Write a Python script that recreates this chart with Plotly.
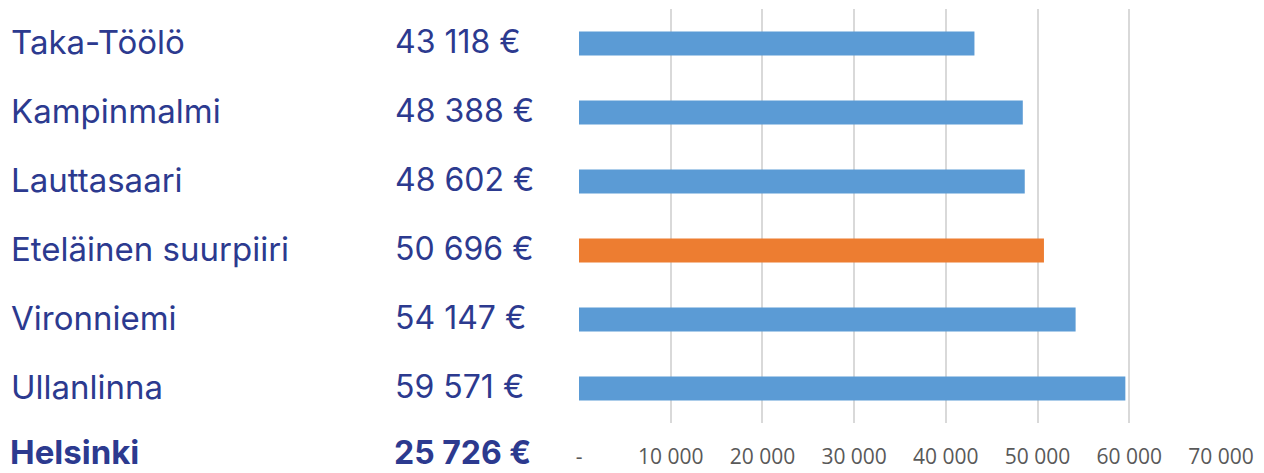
import plotly.graph_objects as go

# Data
categories = ["Taka-Töölö", "Kampinmalmi", "Lauttasaari", "Eteläinen suurpiiri", "Vironniemi", "Ullanlinna"]
values = [43118, 48388, 48602, 50696, 54147, 59571]
highlight = "Eteläinen suurpiiri"
total_label = "Helsinki"
total_value = 25726
tick_values = [0, 10000, 20000, 30000, 40000, 50000, 60000, 70000]
tick_labels = ["-", "10 000", "20 000", "30 000", "40 000", "50 000", "60 000", "70 000"]

BLUE = "#5b9bd5"
ORANGE = "#ed7d31"
TEXT = "#2c3a8f"

W, H = 1264, 473
L, R, T, B = 579, 43, 9, 50
PW = W - L - R


def fmt(v):
    return f"{v:,}".replace(",", " ") + " €"


colors = [ORANGE if c == highlight else BLUE for c in categories]

fig = go.Figure()
fig.add_trace(go.Bar(
    x=values, y=categories, orientation="h",
    marker=dict(color=colors, line=dict(width=0)),
    hoverinfo="skip",
))

name_x = (9 - L) / PW
val_x = (393 - L) / PW
name_font = dict(family="Inter, Roboto, sans-serif", size=33, color=TEXT)
val_font = dict(family="Inter, Roboto, sans-serif", size=32, color=TEXT)

annotations = []
for i, (c, v) in enumerate(zip(categories, values)):
    annotations.append(dict(x=name_x, y=i, xref="paper", yref="y", text=c, showarrow=False,
                            xanchor="left", yanchor="middle", font=name_font, yshift=2))
    annotations.append(dict(x=val_x, y=i, xref="paper", yref="y", text=fmt(v), showarrow=False,
                            xanchor="left", yanchor="middle", font=val_font, yshift=2))
n = len(categories)
total_y = -0.5 / n
annotations.append(dict(x=name_x, y=total_y, xref="paper", yref="paper", text=f"<b>{total_label}</b>",
                        showarrow=False, xanchor="left", yanchor="middle", font=name_font,
                        yshift=5, borderpad=0))
annotations.append(dict(x=val_x, y=total_y, xref="paper", yref="paper", text=f"<b>{fmt(total_value)}</b>",
                        showarrow=False, xanchor="left", yanchor="middle", font=val_font,
                        yshift=5, borderpad=0))

fig.update_layout(
    width=W, height=H,
    margin=dict(l=L, r=R, t=T, b=B, pad=0, autoexpand=False),
    paper_bgcolor="white", plot_bgcolor="white",
    showlegend=False,
    bargap=0.652,
    annotations=annotations,
    xaxis=dict(
        range=[0, 70000], tickvals=tick_values, ticktext=tick_labels,
        showgrid=True, gridcolor="#d9d9d9", gridwidth=2,
        zeroline=False, showline=False, ticks="",
        tickfont=dict(family="Open Sans, sans-serif", size=21, color="#595959"),
        ticklabelstandoff=19, fixedrange=True, automargin=False,
    ),
    yaxis=dict(
        type="category", categoryorder="array", categoryarray=categories,
        range=[n - 0.5, -0.5], showticklabels=False, showgrid=False,
        zeroline=False, showline=False, ticks="", fixedrange=True, automargin=False,
    ),
)

fig.write_html("out.html", config={"displayModeBar": False},
               post_script="document.body.style.margin='0px';")
